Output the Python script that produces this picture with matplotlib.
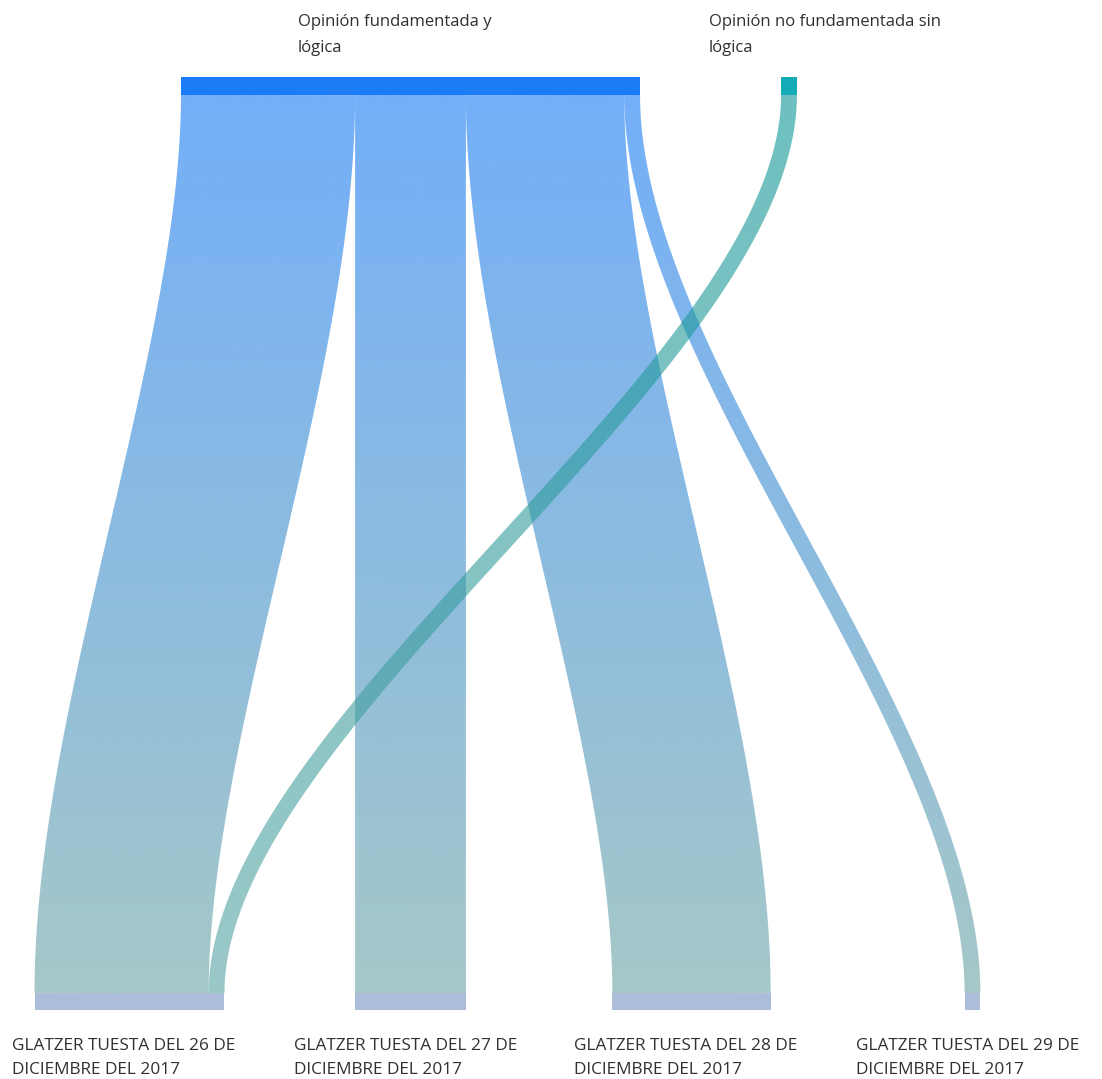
import numpy as np
import matplotlib.pyplot as plt
from matplotlib.path import Path
from matplotlib.patches import PathPatch, Rectangle
from matplotlib.colors import to_rgb

plt.rcParams['font.family'] = ['Open Sans', 'DejaVu Sans']

# datos
sources = ['Opinión fundamentada y\nlógica', 'Opinión no fundamentada sin\nlógica']
targets = ['GLATZER TUESTA DEL 26 DE\nDICIEMBRE DEL 2017',
           'GLATZER TUESTA DEL 27 DE\nDICIEMBRE DEL 2017',
           'GLATZER TUESTA DEL 28 DE\nDICIEMBRE DEL 2017',
           'GLATZER TUESTA DEL 29 DE\nDICIEMBRE DEL 2017']
link_source = [0, 0, 0, 0, 1]
link_target = [0, 1, 2, 3, 0]
link_value = [11, 7, 10, 1, 1]

# estilo / layout (pixeles)
W, H = 1102, 1079
px_per_unit = 15.83
top_centers = [410.5, 789]
bot_centers = [129.5 + 281 * i for i in range(len(targets))]
top_node = (77, 95)
bot_node = (993, 1010)
curv = 0.3
source_colors = ['#1b7cf6', '#13acb6']
target_color = '#abbdd8'
flow_top = ['#167af5', '#0d9696']
flow_bot = ['#69a3a3', '#58a3a3']
flow_alpha = 0.6
text_color = '#303030'

fig = plt.figure(figsize=(W / 100, H / 100), dpi=100)
ax = fig.add_axes([0, 0, 1, 1])

src_tot = [sum(v for s, v in zip(link_source, link_value) if s == i) for i in range(len(sources))]
tgt_tot = [sum(v for t, v in zip(link_target, link_value) if t == j) for j in range(len(targets))]
src_x0 = [c - t * px_per_unit / 2 for c, t in zip(top_centers, src_tot)]
tgt_x0 = [c - t * px_per_unit / 2 for c, t in zip(bot_centers, tgt_tot)]

# posiciones de cada enlace en los nodos
src_off = list(src_x0)
tgt_off = list(tgt_x0)
src_pos = {}
for k in sorted(range(len(link_value)), key=lambda k: (link_source[k], link_target[k])):
    s = link_source[k]
    w = link_value[k] * px_per_unit
    src_pos[k] = (src_off[s], src_off[s] + w)
    src_off[s] += w
tgt_pos = {}
for k in sorted(range(len(link_value)), key=lambda k: (link_target[k], link_source[k])):
    t = link_target[k]
    w = link_value[k] * px_per_unit
    tgt_pos[k] = (tgt_off[t], tgt_off[t] + w)
    tgt_off[t] += w

yt, yb = top_node[1], bot_node[0]
tt = np.linspace(0, 1, 600)
for k in range(len(link_value)):
    s = link_source[k]
    w = link_value[k] * px_per_unit
    xs = sum(src_pos[k]) / 2
    xe = sum(tgt_pos[k]) / 2
    # linea central (bezier) con grosor constante
    cx = xs + (xe - xs) * (3 * tt**2 - 2 * tt**3)
    cy = yt + (yb - yt) * (3 * curv * tt * (1 - tt)**2 + 3 * (1 - curv) * tt**2 * (1 - tt) + tt**3)
    dx = np.gradient(cx)
    dy = np.gradient(cy)
    nrm = np.hypot(dx, dy)
    nx, ny = dy / nrm, -dx / nrm
    left = np.column_stack([cx - w / 2 * nx, cy - w / 2 * ny])
    right = np.column_stack([cx + w / 2 * nx, cy + w / 2 * ny])
    poly = np.vstack([left, right[::-1], left[:1]])
    patch = PathPatch(Path(poly, closed=True), facecolor='none', edgecolor='none')
    ax.add_patch(patch)
    n = 256
    c0 = np.array(to_rgb(flow_top[s]))
    c1 = np.array(to_rgb(flow_bot[s]))
    g = np.linspace(0, 1, n)[:, None]
    img = np.zeros((n, 1, 4))
    img[:, 0, :3] = c0 * (1 - g) + c1 * g
    img[:, 0, 3] = flow_alpha
    im = ax.imshow(img, extent=(poly[:, 0].min() - 2, poly[:, 0].max() + 2, yt, yb),
                   origin='lower', aspect='auto', interpolation='bilinear')
    im.set_clip_path(patch)

# nodos
for i in range(len(sources)):
    ax.add_patch(Rectangle((src_x0[i], top_node[0]), src_tot[i] * px_per_unit,
                           top_node[1] - top_node[0], color=source_colors[i], lw=0))
for j in range(len(targets)):
    ax.add_patch(Rectangle((tgt_x0[j], bot_node[0]), tgt_tot[j] * px_per_unit,
                           bot_node[1] - bot_node[0], color=target_color, lw=0))

# etiquetas
top_label_x = [298, 709]
for i, lab in enumerate(sources):
    for r, line in enumerate(lab.split('\n')):
        ax.text(top_label_x[i], 22 + 26 * r, line, ha='left', va='center',
                fontsize=12, color=text_color)
for j, lab in enumerate(targets):
    for r, line in enumerate(lab.split('\n')):
        ax.text(bot_centers[j] - 117, 1046 + 24 * r, line, ha='left', va='center',
                fontsize=12.4, color=text_color)

ax.set_xlim(0, W)
ax.set_ylim(H, 0)
ax.axis('off')
fig.savefig('out.png', dpi=100, facecolor='white')
